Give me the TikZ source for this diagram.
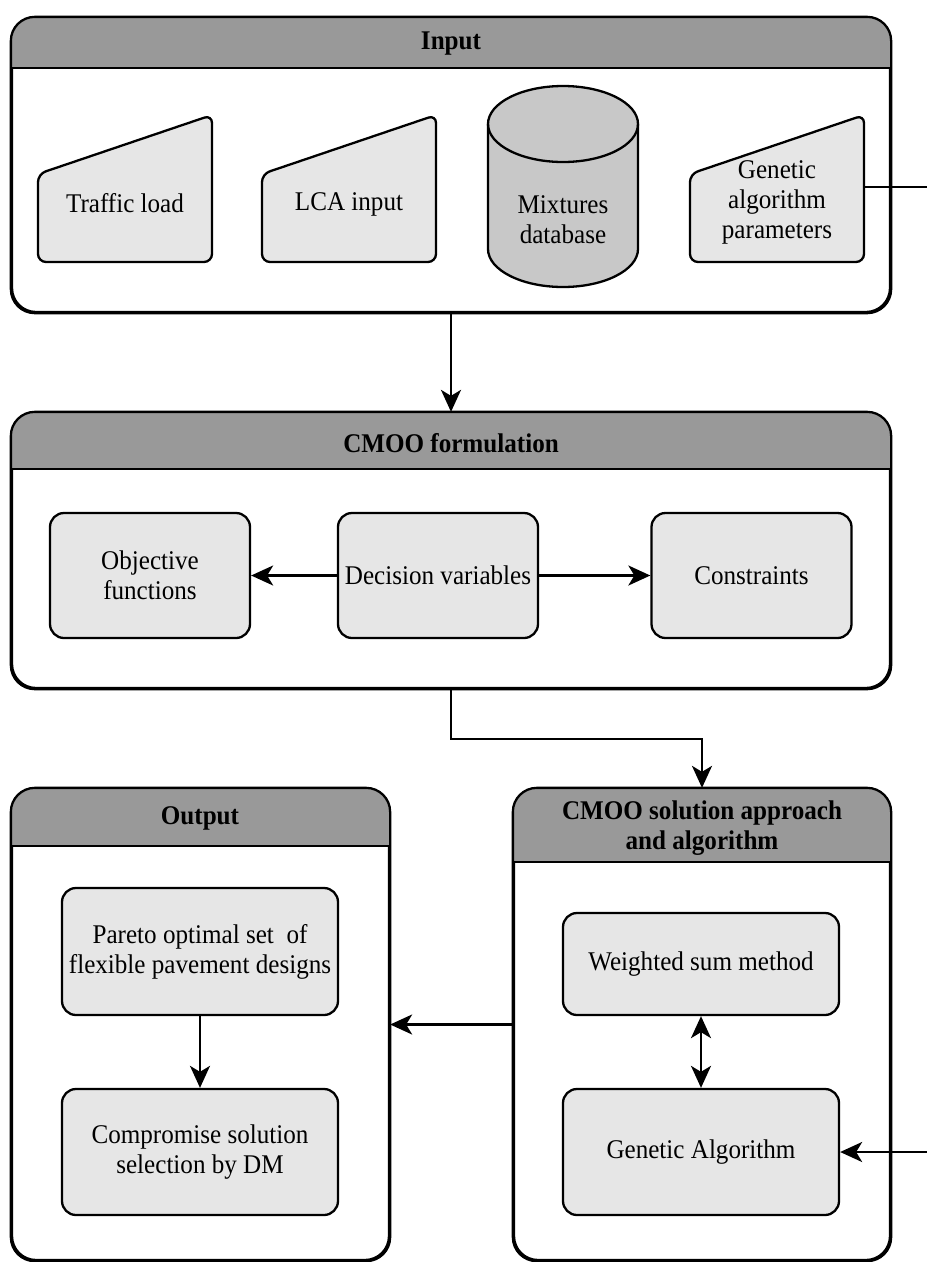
\documentclass[tikz,border=0pt]{standalone}
\usepackage{fontspec}
\setmainfont{Liberation Serif}[FakeStretch=0.93]
\usetikzlibrary{arrows.meta}

\definecolor{hdrgray}{RGB}{153,153,153}
\definecolor{boxgray}{RGB}{230,230,230}
\definecolor{cylgray}{RGB}{200,200,200}

\begin{document}
\begin{tikzpicture}[x=1pt, y=-1pt, line width=2.3pt, >={Stealth[length=22pt,width=20pt,inset=6pt]},
    every node/.style={font=\fontsize{27}{30}\selectfont},
    panel/.style={draw, fill=white, rounded corners=24pt, inner sep=0pt},
    title/.style={font=\fontsize{27}{30}\selectfont\bfseries, align=center},
    procbox/.style={draw, fill=boxgray, rounded corners=14pt, align=center, minimum width=200pt, minimum height=125pt, inner sep=2pt},
    intext/.style={align=center, inner sep=0pt},
    manual/.style={draw, fill=boxgray, rounded corners=8pt}]
    \useasboundingbox (0,0) rectangle (927,1262);
    \fill[white] (0,0) rectangle (927,1262);

    % Panels
    \node[panel, minimum width=878pt, minimum height=294pt] (input) at (451,165) {};
    \node[panel, minimum width=878pt, minimum height=275pt] (form) at (451,550.5) {};
    \node[panel, minimum width=377pt, minimum height=471pt] (out) at (200.5,1024.5) {};
    \node[panel, minimum width=376pt, minimum height=471pt] (sol) at (702,1024.5) {};

    % Grey header bands
    \foreach \p/\hh in {input/51, form/57, out/58, sol/74}{
      \begin{scope}
        \clip[rounded corners=24pt] (\p.north west) rectangle (\p.south east);
        \fill[hdrgray] (\p.north west) rectangle ([yshift=-\hh pt]\p.north east);
      \end{scope}
      \draw ([yshift=-\hh pt]\p.north west) -- ([yshift=-\hh pt]\p.north east);
      \draw[rounded corners=24pt] (\p.north west) rectangle (\p.south east);
    }

    % Header titles
    \node[title] (inputtitle) at (451,44) {Input};
    \node[title] (formtitle) at (451,443) {CMOO formulation};
    \node[title] (outtitle) at (200,818) {Output};
    \node[title] (soltitle) at (702,828) {CMOO solution approach\\and algorithm};

    % Input items
    \draw[manual] (38,262) -- (38,174) -- (212,115) -- (212,262) -- cycle;
    \node[intext] (traffic) at (125,203) {Traffic load};
    \draw[manual] (262,262) -- (262,174) -- (436,115) -- (436,262) -- cycle;
    \node[intext] (lca) at (349,204) {LCA input};
    \draw[fill=cylgray] (488,124) -- (488,249) arc[start angle=180, end angle=360, x radius=75pt, y radius=38pt]
        -- (638,124) arc[start angle=0, end angle=180, x radius=75pt, y radius=38pt] -- cycle;
    \draw (488,124) arc[start angle=180, end angle=360, x radius=75pt, y radius=38pt];
    \node[intext] (mixdb) at (563,220) {Mixtures\\database};
    \draw[manual] (690,262) -- (690,174) -- (864,115) -- (864,262) -- cycle;
    \node[intext] (gapar) at (777,202) {Genetic\\algorithm\\parameters};
    \coordinate (gaparout) at (864,187);

    % CMOO formulation items
    \node[procbox] (obj) at (150,575.5) {Objective\\functions};
    \node[procbox] (dec) at (438,575.5) {Decision variables};
    \node[procbox] (con) at (751.5,575.5) {Constraints};

    % Output items
    \node[procbox, minimum width=276pt, minimum height=127pt] (pareto) at (200,951.5) {Pareto optimal set\ \ of\\flexible pavement designs};
    \node[procbox, minimum width=276pt, minimum height=126pt] (comp) at (200,1152) {Compromise solution\\selection by DM};

    % Solution items
    \node[procbox, minimum width=276pt, minimum height=102pt] (wsum) at (701,964) {Weighted sum method};
    \node[procbox, minimum width=276pt, minimum height=126pt] (ga) at (701,1152) {Genetic Algorithm};

    % Connectors
    \draw[->] (input.south) -- (form.north);
    \draw[->] (form.south) -- ++(0,50) -| (sol.north);
    \draw[->] (dec.west) -- (obj.east);
    \draw[->] (dec.east) -- (con.west);
    \draw[->] (sol.west) -- (out.east);
    \draw[->] (pareto.south) -- (comp.north);
    \draw[<->] (wsum.south) -- (ga.north);
    \coordinate (rail) at (945,187);
    \draw[->] (gaparout) -- (rail) |- (ga.east);
\end{tikzpicture}
\end{document}
